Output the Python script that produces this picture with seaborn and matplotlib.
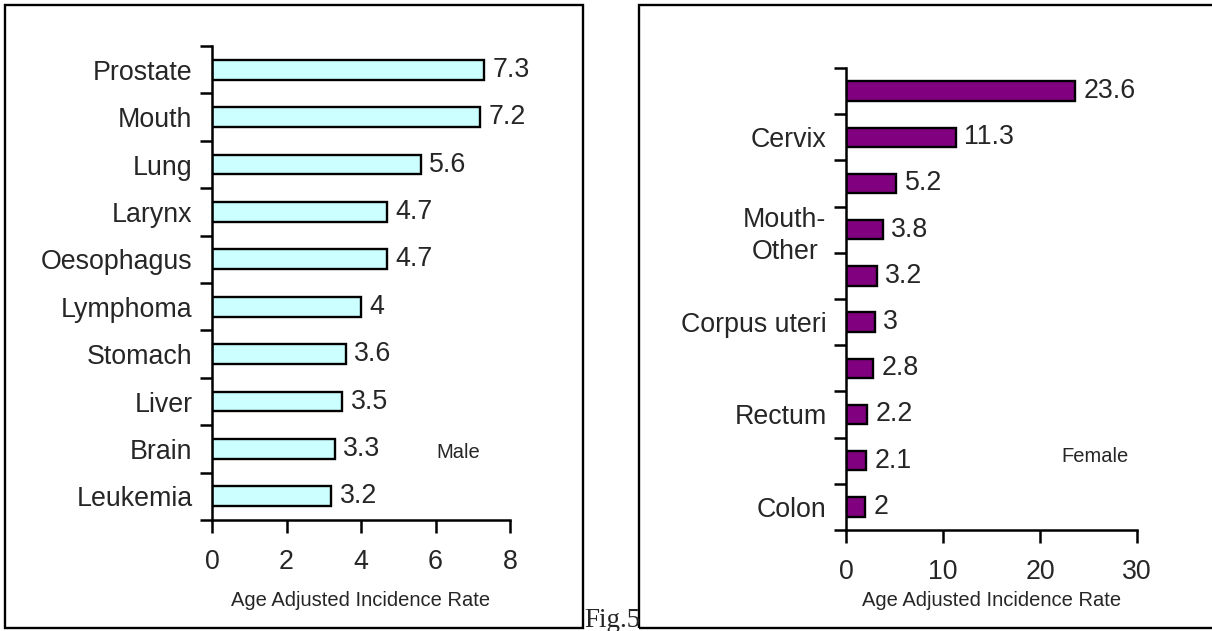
import numpy as np
import pandas as pd
import matplotlib
matplotlib.use("Agg")
import matplotlib.pyplot as plt
from matplotlib.patches import Rectangle
import seaborn as sns

# ---------------- data ----------------
male_categories = ["Prostate", "Mouth", "Lung", "Larynx", "Oesophagus",
                   "Lymphoma", "Stomach", "Liver", "Brain", "Leukemia"]
male_values = [7.3, 7.2, 5.6, 4.7, 4.7, 4.0, 3.6, 3.5, 3.3, 3.2]
male_value_labels = ["7.3", "7.2", "5.6", "4.7", "4.7", "4", "3.6", "3.5", "3.3", "3.2"]
male_xticks = [0, 2, 4, 6, 8]

female_ids = ["F1", "F2", "F3", "F4", "F5", "F6", "F7", "F8", "F9", "F10"]
female_labels = ["", "Cervix", "", "Mouth-\nOther", "", "Corpus uteri",
                 "", "Rectum", "", "Colon"]
female_values = [23.6, 11.3, 5.2, 3.8, 3.2, 3.0, 2.8, 2.2, 2.1, 2.0]
female_value_labels = ["23.6", "11.3", "5.2", "3.8", "3.2", "3", "2.8", "2.2", "2.1", "2"]
female_xticks = [0, 10, 20, 30]

x_title = "Age Adjusted Incidence Rate"

# ---------------- style ----------------
sns.set_style("white")
plt.rcParams["font.family"] = ["Liberation Sans", "DejaVu Sans"]

W, H = 1212, 631
fig = plt.figure(figsize=(W / 100, H / 100), dpi=100)


def frac_axes(x0, x1, ytop, ybot):
    return fig.add_axes([x0 / W, 1 - ybot / H, (x1 - x0) / W, (ybot - ytop) / H])


BIG = 19.3
SMALL = 14.5
LW = 1.8


def draw_panel(ax, ids, values, value_labels, ticklabels, color, xlim, xticks,
               note, note_xy, label_y):
    df = pd.DataFrame({"cat": ids, "val": values})
    sns.barplot(data=df, x="val", y="cat", order=ids, orient="h", color=color,
                edgecolor="black", linewidth=1.7, width=0.42, saturation=1,
                ax=ax)
    n = len(ids)
    ax.set_xlim(*xlim)
    ax.set_ylim(n - 0.5, -0.5)
    ax.set_xticks(xticks)
    ax.set_xticklabels([str(t) for t in xticks], fontsize=BIG)
    ax.set_yticks(range(n))
    ax.set_yticklabels(ticklabels, fontsize=BIG, multialignment="center",
                       linespacing=1.3)
    ax.set_yticks(np.arange(-0.5, n, 1.0), minor=True)
    ax.tick_params(axis="y", which="major", length=0, pad=14)
    ax.tick_params(axis="y", which="minor", length=9, width=LW, direction="out",
                   color="black", left=True)
    ax.tick_params(axis="x", which="major", length=9, width=LW, direction="out",
                   color="black", pad=12, bottom=True)
    for s in ["top", "right"]:
        ax.spines[s].set_visible(False)
    for s in ["left", "bottom"]:
        ax.spines[s].set_visible(True)
        ax.spines[s].set_color("black")
        ax.spines[s].set_linewidth(LW)
    ax.set_ylabel("")
    ax.set_xlabel(x_title, fontsize=SMALL)
    ax.xaxis.set_label_coords(0.5, label_y)
    ax.bar_label(ax.containers[0], labels=value_labels, padding=6, fontsize=BIG)
    ax.text(note_xy[0], note_xy[1], note, transform=ax.transAxes,
            ha="center", va="center", fontsize=SMALL)
    ax.grid(False)
    ax.set_facecolor("none")


ax1 = frac_axes(212, 510, 46, 520)
draw_panel(ax1, male_categories, male_values, male_value_labels, male_categories,
           "#CCFFFF", (0, 8), male_xticks, "Male", (0.825, 0.143), -0.150)

ax2 = frac_axes(846, 1137, 68, 530)
draw_panel(ax2, female_ids, female_values, female_value_labels, female_labels,
           "#800080", (0, 30), female_xticks, "Female", (0.855, 0.16), -0.132)

# frames around each chart
box_lw = 1.7
fig.add_artist(Rectangle((5 / W, 1 - 628 / H), (583 - 5) / W, (628 - 5) / H,
                         transform=fig.transFigure, fill=False,
                         edgecolor="black", linewidth=box_lw))
fig.add_artist(Rectangle((639 / W, 1 - 628 / H), (1230 - 639) / W, (628 - 5) / H,
                         transform=fig.transFigure, fill=False,
                         edgecolor="black", linewidth=box_lw))

fig.text(584 / W, 1 - 627 / H, "Fig.5", family=["Liberation Serif", "DejaVu Serif"],
         fontsize=19.5, ha="left", va="baseline")

fig.savefig("out.png", dpi=100, facecolor="white")
